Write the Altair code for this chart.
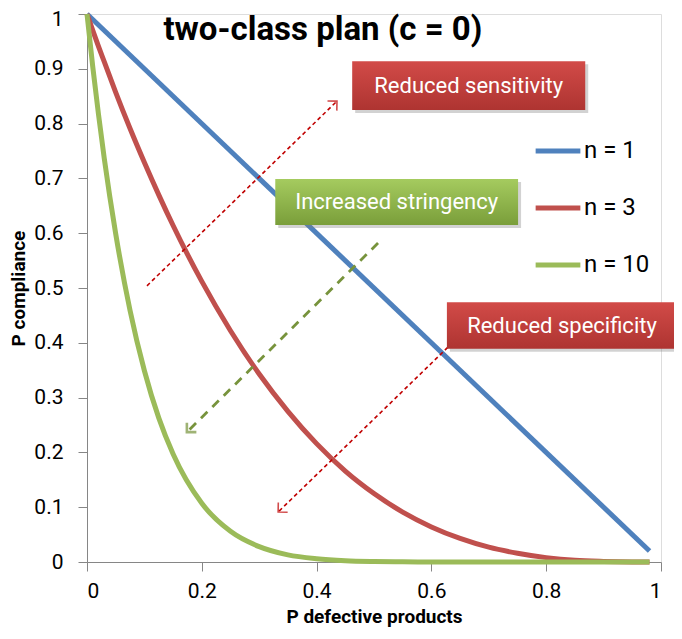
import altair as alt
import pandas as pd

FONT = "Liberation Sans Narrow, Roboto, sans-serif"

# Curve data
p_vals = [0, 0.01, 0.02, 0.03, 0.05, 0.075, 0.1, 0.125, 0.15, 0.2, 0.25, 0.3, 0.35,
          0.4, 0.45, 0.5, 0.55, 0.6, 0.65, 0.7, 0.75, 0.8, 0.85, 0.9, 0.95, 0.98]
n1_vals = [1, 0.99, 0.98, 0.97, 0.95, 0.925, 0.9, 0.875, 0.85, 0.8, 0.75, 0.7, 0.65,
           0.6, 0.55, 0.5, 0.45, 0.4, 0.35, 0.3, 0.25, 0.2, 0.15, 0.1, 0.05, 0.02]
n3_vals = [1, 0.970, 0.941, 0.913, 0.857, 0.791, 0.729, 0.670, 0.614, 0.512, 0.422, 0.343, 0.275,
           0.216, 0.166, 0.125, 0.091, 0.064, 0.043, 0.027, 0.016, 0.008, 0.003, 0.001, 0.0001, 0]
n10_vals = [1, 0.904, 0.817, 0.737, 0.599, 0.459, 0.349, 0.263, 0.197, 0.107, 0.056, 0.028, 0.013,
            0.006, 0.0025, 0.001, 0.0003, 0.0001, 0, 0, 0, 0, 0, 0, 0, 0]
series_names = ["n = 1", "n = 3", "n = 10"]
series_colors = ["#4F81BD", "#C0504D", "#9BBB59"]

title_text = "two-class plan (c = 0)"
x_title = "P defective products"
y_title = "P compliance"

# Annotation boxes (data coordinates)
box_labels = ["Reduced sensitivity", "Increased stringency", "Reduced specificity"]
box_x1 = [0.462, 0.328, 0.627]
box_x2 = [0.868, 0.751, 1.028]
box_y1 = [0.825, 0.615, 0.389]
box_y2 = [0.914, 0.699, 0.474]
box_top = ["#D24B48", "#A5CB5F", "#D24B48"]
box_bottom = ["#AE3431", "#7A9E3A", "#AE3431"]

# Annotation arrows (data coordinates)
arrow_x1 = [0.1045, 0.507, 0.681]
arrow_y1 = [0.504, 0.582, 0.445]
arrow_x2 = [0.4355, 0.174, 0.333]
arrow_y2 = [0.841, 0.237, 0.0912]
arrow_color = ["#C00000", "#77933C", "#C00000"]
arrow_width = [1.6, 2.6, 1.6]
arrow_angle = [316, 135, 136]

rows = []
for name, vals in zip(series_names, [n1_vals, n3_vals, n10_vals]):
    for p, v in zip(p_vals, vals):
        if name == "n = 1" and p not in (0, 0.98):
            continue
        rows.append({"p": p, "v": v, "series": name})
curves = pd.DataFrame(rows)

boxes = pd.DataFrame({"label": box_labels, "x1": box_x1, "x2": box_x2,
                      "y1": box_y1, "y2": box_y2})
boxes["xc"] = (boxes.x1 + boxes.x2) / 2
boxes["yc"] = (boxes.y1 + boxes.y2) / 2

arrows = pd.DataFrame({"x1": arrow_x1, "y1": arrow_y1, "x2": arrow_x2, "y2": arrow_y2,
                       "color": arrow_color, "w": arrow_width, "angle": arrow_angle})

xs = alt.Scale(domain=[0, 1], nice=False)
ys = alt.Scale(domain=[0, 1], nice=False)

axis_common = dict(domainColor="#868686", tickColor="#868686", tickSize=9, grid=False,
                   labelFont=FONT, labelFontSize=21, labelColor="#000000",
                   titleFont=FONT, titleFontSize=19, titleColor="#000000", titleFontWeight="bold")

lines = alt.Chart(curves).mark_line(strokeWidth=5, interpolate="monotone").encode(
    x=alt.X("p:Q", scale=xs, title=x_title,
            axis=alt.Axis(values=[0, 0.2, 0.4, 0.6, 0.8, 1], format="~g", labelPadding=9,
                          titlePadding=6, **axis_common)),
    y=alt.Y("v:Q", scale=ys, title=y_title,
            axis=alt.Axis(values=[round(i * 0.1, 1) for i in range(11)], format="~g",
                          labelPadding=15, titlePadding=5,
                          labelOffset={"condition": {"test": "datum.value == 1", "value": 5},
                                       "value": 0},
                          **axis_common)),
    color=alt.Color("series:N",
                    scale=alt.Scale(domain=series_names, range=series_colors),
                    sort=series_names,
                    legend=alt.Legend(orient="none", legendX=446, legendY=112, title=None,
                                      symbolType="stroke", symbolStrokeWidth=5,
                                      symbolSize=2000, labelFontSize=24, labelFont=FONT,
                                      labelColor="#000000", rowPadding=20, labelOffset=1)),
)

arrow_lines_red = alt.Chart(arrows[arrows.color == "#C00000"]).mark_rule(
    strokeDash=[4, 3], strokeWidth=1.6, color="#C00000").encode(
    x=alt.X("x1:Q", scale=xs), y=alt.Y("y1:Q", scale=ys), x2="x2:Q", y2="y2:Q")
arrow_lines_green = alt.Chart(arrows[arrows.color != "#C00000"]).mark_rule(
    strokeDash=[9, 7], strokeWidth=2.8, color="#77933C").encode(
    x=alt.X("x1:Q", scale=xs), y=alt.Y("y1:Q", scale=ys), x2="x2:Q", y2="y2:Q")

heads = alt.Chart(arrows).mark_point(
    shape="M-1,-1L0,0L-1,1", filled=False, size=180).encode(
    x=alt.X("x2:Q", scale=xs), y=alt.Y("y2:Q", scale=ys),
    angle=alt.Angle("angle:Q", scale=None),
    stroke=alt.Stroke("color:N", scale=None),
    strokeWidth=alt.StrokeWidth("w:Q", scale=None),
)

shadow = alt.Chart(boxes).mark_rect(color="#7F7F7F", opacity=0.35,
                                    xOffset=3, x2Offset=3, yOffset=3, y2Offset=3).encode(
    x=alt.X("x1:Q", scale=xs), x2="x2:Q", y=alt.Y("y1:Q", scale=ys), y2="y2:Q")

box_layers = []
for i in range(len(box_labels)):
    grad = alt.Gradient(gradient="linear", x1=0, x2=0, y1=0, y2=1,
                        stops=[alt.GradientStop(offset=0, color=box_top[i]),
                               alt.GradientStop(offset=1, color=box_bottom[i])])
    box_layers.append(
        alt.Chart(boxes.iloc[[i]]).mark_rect(fill=grad).encode(
            x=alt.X("x1:Q", scale=xs), x2="x2:Q", y=alt.Y("y1:Q", scale=ys), y2="y2:Q"))

box_text = alt.Chart(boxes).mark_text(font=FONT, fontSize=22, color="white").encode(
    x=alt.X("xc:Q", scale=xs), y=alt.Y("yc:Q", scale=ys), text="label:N")

title_df = pd.DataFrame({"x": [0.411], "y": [0.970], "t": [title_text]})
title_mark = alt.Chart(title_df).mark_text(font=FONT, fontSize=33, fontWeight="bold",
                                           color="black").encode(
    x=alt.X("x:Q", scale=xs), y=alt.Y("y:Q", scale=ys), text="t:N")

chart = alt.layer(lines, arrow_lines_red, arrow_lines_green, heads, shadow, *box_layers,
                  box_text, title_mark).properties(
    width=574, height=548,
    autosize=alt.AutoSizeParams(type="none"),
    padding={"left": 79, "top": 6, "right": 13, "bottom": 69},
).configure_view(stroke=None).configure(background="white")

chart.save("out.html", embed_options={"renderer": "svg", "actions": False})
